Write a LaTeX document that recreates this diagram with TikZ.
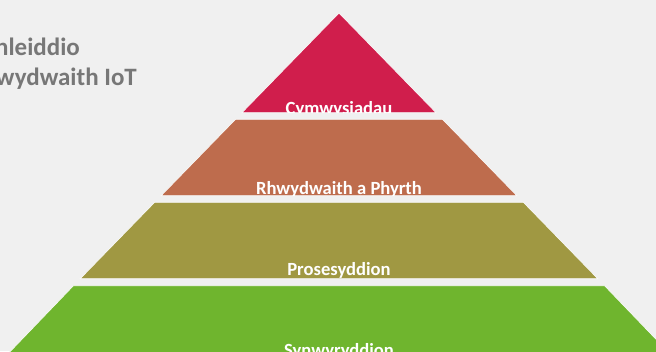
\documentclass[tikz,border=0pt]{standalone}
\usepackage{fontspec}
\setmainfont{Carlito}
\definecolor{bg}{HTML}{F0F0F0}
\definecolor{cA}{HTML}{D01E4C}
\definecolor{cB}{HTML}{BE6C4D}
\definecolor{cC}{HTML}{A09842}
\definecolor{cD}{HTML}{6FB52E}
\definecolor{ttl}{HTML}{777777}
\begin{document}
\begin{tikzpicture}[x=1pt,y=-1pt,
  layer/.style={draw=white!60!bg, line width=0.7pt},
  lbl/.style={text=white, font=\fontsize{18.6}{22}\selectfont\bfseries, inner sep=0pt, anchor=base},
  ttlstyle/.style={text=ttl, font=\fontsize{25}{30}\selectfont\bfseries, inner sep=0pt, anchor=base east}]
\useasboundingbox (0,0) rectangle (656,351);
\clip (0,0) rectangle (656,351);
\fill[bg] (0,0) rectangle (656,351);
% title (clipped at the left edge)
\node[ttlstyle] (h1) at (80,55) {nleiddio};
\node[ttlstyle] (h2) at (137,85) {wydwaith IoT};
% layer 1
\fill[layer, fill=cA] (339,13) -- (436.1,112.7) -- (241.9,112.7) -- cycle;
\begin{scope}
\clip (339,13) -- (436.1,112.7) -- (241.9,112.7) -- cycle;
\node[lbl] (t1) at (339,114) {Cymwysiadau};
\end{scope}
% layer 2
\fill[layer, fill=cB] (235.5,119.3) -- (442.5,119.3) -- (516.9,195.7) -- (161.1,195.7) -- cycle;
\begin{scope}
\clip (235.5,119.3) -- (442.5,119.3) -- (516.9,195.7) -- (161.1,195.7) -- cycle;
\node[lbl] (t2) at (339,194.3) {Rhwydwaith a Phyrth};
\end{scope}
% layer 3
\fill[layer, fill=cC] (154.6,202.3) -- (523.4,202.3) -- (597.8,278.7) -- (80.2,278.7) -- cycle;
\begin{scope}
\clip (154.6,202.3) -- (523.4,202.3) -- (597.8,278.7) -- (80.2,278.7) -- cycle;
\node[lbl] (t3) at (339,275) {Prosesyddion};
\end{scope}
% layer 4
\fill[layer, fill=cD] (73.4,285.7) -- (604.6,285.7) -- (678,362.1) -- (0,362.1) -- cycle;
\begin{scope}
\clip (73.4,285.7) -- (604.6,285.7) -- (678,362.1) -- (0,362.1) -- cycle;
\node[lbl] (t4) at (339,356.7) {Synwyryddion};
\end{scope}
\end{tikzpicture}
\end{document}
